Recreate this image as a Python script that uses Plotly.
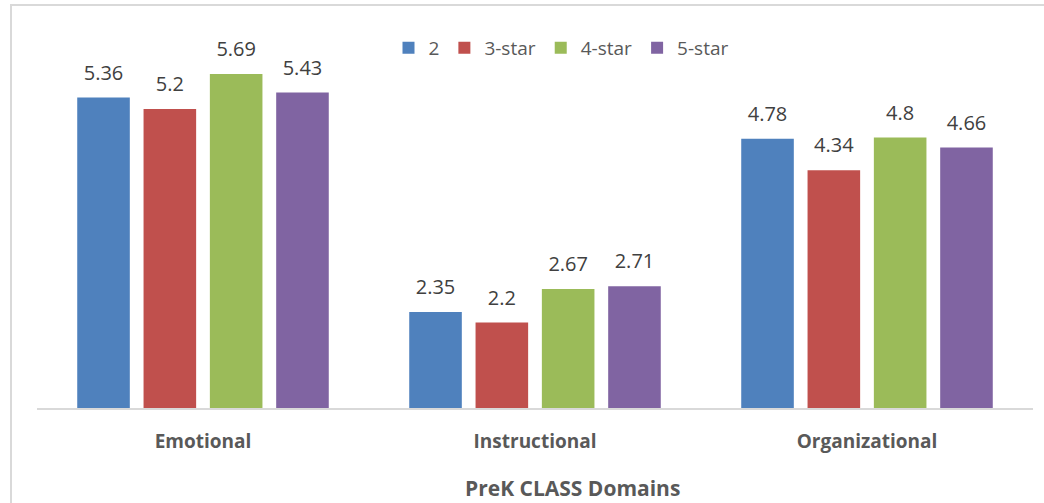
import plotly.graph_objects as go

categories = ["Emotional", "Instructional", "Organizational"]
series_names = ["2", "3-star", "4-star", "5-star"]
vals_2 = [5.36, 2.35, 4.78]
vals_3star = [5.2, 2.2, 4.34]
vals_4star = [5.69, 2.67, 4.8]
vals_5star = [5.43, 2.71, 4.66]
colors = ["#4F81BD", "#C0504D", "#9BBB59", "#8064A2"]
x_title = "PreK CLASS Domains"

fig = go.Figure()
all_vals = [vals_2, vals_3star, vals_4star, vals_5star]
for name, vals, col in zip(series_names, all_vals, colors):
    fig.add_trace(go.Bar(
        x=categories, y=vals, name=name, offsetgroup=name,
        marker=dict(color=col, line=dict(width=0)),
        hoverinfo="skip",
    ))
for name, vals in zip(series_names, all_vals):
    fig.add_trace(go.Scatter(
        x=categories, y=vals, offsetgroup=name, mode="markers+text",
        marker=dict(size=19, color="rgba(0,0,0,0)"),
        text=[f"{v:g}" for v in vals], textposition="top center",
        textfont=dict(family="Open Sans", size=20, color="#404040"),
        showlegend=False, cliponaxis=False, hoverinfo="skip",
    ))

W, H = 1044, 503
ml, mr, mt, mb = 37, 11, 52, 95
pw, ph = W - ml - mr, H - mt - mb

fig.update_layout(
    width=W, height=H,
    margin=dict(l=ml, r=mr, t=mt, b=mb, autoexpand=False),
    paper_bgcolor="white", plot_bgcolor="white",
    barmode="group", bargap=0.201, bargroupgap=0.207,
    scattermode="group", scattergap=0.201,
    showlegend=True,
    legend=dict(orientation="h", x=(561 - ml) / pw, xanchor="center", y=1 + 4 / ph, yanchor="middle",
                font=dict(family="Open Sans", size=19, color="#595959"),
                itemwidth=30, traceorder="normal"),
    xaxis=dict(showline=True, linecolor="#d9d9d9", linewidth=1.5, showgrid=False,
               ticks="", ticklabelstandoff=15,
               tickfont=dict(family="Open Sans", size=19, color="#595959", weight="bold")),
    yaxis=dict(range=[1, 6], visible=False, showgrid=False, zeroline=False),
)

fig.add_annotation(text=x_title, xref="paper", yref="paper",
                   x=(572 - ml) / pw, y=-(488 - mt - ph) / ph, xanchor="center", yanchor="middle",
                   showarrow=False,
                   font=dict(family="Open Sans", size=21, color="#595959", weight="bold"))

fig.add_shape(type="rect", xref="paper", yref="paper",
              x0=(11 - ml) / pw, x1=(1060 - ml) / pw,
              y0=1 - (H + 20 - mt) / ph, y1=1 - (5 - mt) / ph,
              line=dict(color="#d9d9d9", width=2), fillcolor="rgba(0,0,0,0)", layer="below")

fig.write_html("out.html", config={"displayModeBar": False},
               post_script="document.body.style.margin='0px';")
